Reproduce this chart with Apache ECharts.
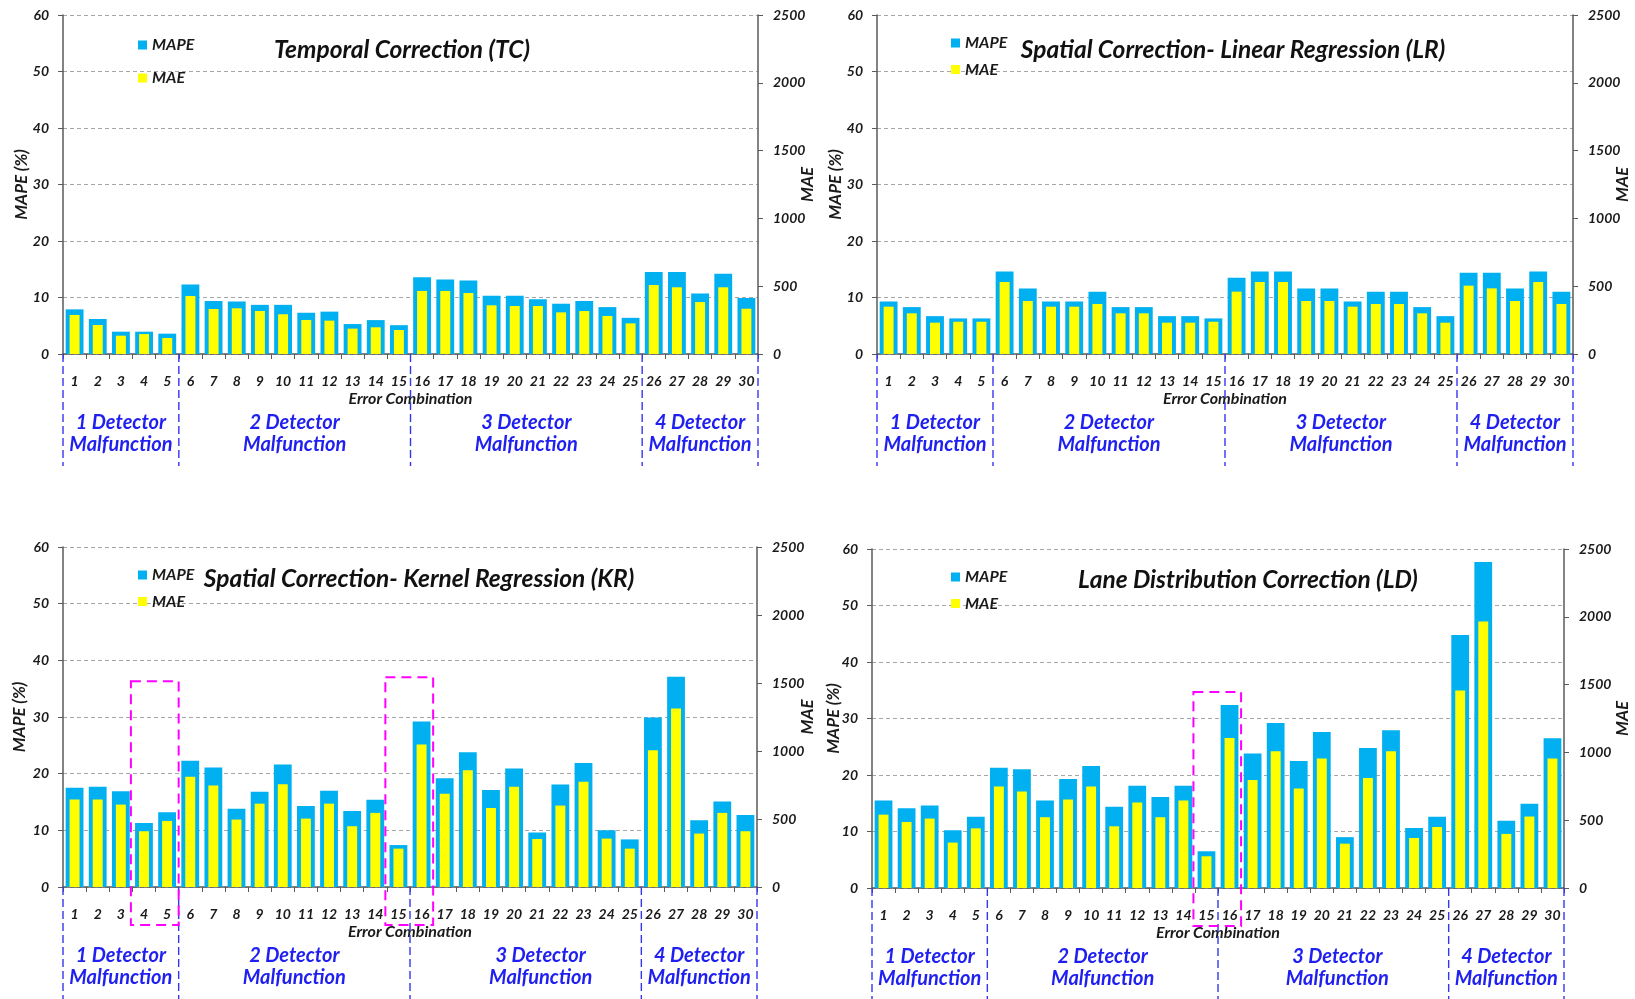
<!DOCTYPE html>
<html><head><meta charset="utf-8">
<script src="https://cdn.jsdelivr.net/npm/echarts@6/dist/echarts.min.js"></script>
<style>html,body{margin:0;padding:0;background:#fff}#c{width:1635px;height:999px}</style>
</head><body><div id="c"></div>
<script>
// ---------------- data ----------------
const categories = ['1','2','3','4','5','6','7','8','9','10','11','12','13','14','15','16','17','18','19','20','21','22','23','24','25','26','27','28','29','30'];
const groupNames = ['1 Detector\nMalfunction','2 Detector\nMalfunction','3 Detector\nMalfunction','4 Detector\nMalfunction'];
const groupBreaks = [0, 5, 15, 25, 30];
const mapeAxis = {min: 0, max: 60, interval: 10};
const maeAxis = {min: 0, max: 2500, interval: 500};
const seriesNames = ['MAPE', 'MAE'];
const xAxisName = 'Error Combination';
const leftAxisName = 'MAPE (%)';
const rightAxisName = 'MAE';

const tcTitle = 'Temporal Correction (TC)';
const tcMAPE = [7.9,6.2,3.95,3.95,3.6,12.3,9.4,9.3,8.7,8.7,7.3,7.5,5.3,6.0,5.1,13.6,13.2,13.0,10.3,10.3,9.7,8.9,9.4,8.3,6.4,14.5,14.5,10.7,14.2,9.9];
const tcMAE  = [288,214,135,147,118,428,332,337,317,293,251,246,187,197,177,465,465,450,359,354,354,307,317,280,226,509,492,383,492,334];

const lrTitle = 'Spatial Correction- Linear Regression (LR)';
const lrMAPE = [9.3,8.3,6.7,6.3,6.3,14.6,11.6,9.3,9.3,11.0,8.3,8.3,6.7,6.7,6.3,13.5,14.6,14.6,11.6,11.6,9.3,11.0,11.0,8.3,6.7,14.4,14.4,11.6,14.6,11.0];
const lrMAE  = [349,300,231,238,238,531,391,349,349,369,300,300,231,231,238,460,531,531,391,391,349,369,369,300,231,504,484,391,531,369];

const krTitle = 'Spatial Correction- Kernel Regression (KR)';
const krMAPE = [17.5,17.7,16.9,11.3,13.2,22.3,21.1,13.8,16.8,21.6,14.3,17.0,13.4,15.4,7.4,29.2,19.2,23.8,17.1,20.9,9.6,18.1,21.9,10.0,8.4,29.9,37.1,11.8,15.1,12.7];
const krMAE  = [643,643,606,410,486,810,746,496,613,756,503,613,447,545,282,1048,685,859,581,738,353,599,773,356,282,1006,1313,393,545,410];
const krHighlights = [{from: '4', to: '5', top: 36.3}, {from: '15', to: '16', top: 37.0}];

const ldTitle = 'Lane Distribution Correction (LD)';
const ldMAPE = [15.5,14.1,14.6,10.2,12.6,21.3,21.0,15.5,19.3,21.6,14.4,18.1,16.1,18.1,6.5,32.4,23.8,29.2,22.5,27.6,9.0,24.8,27.9,10.6,12.6,44.8,57.7,11.9,14.9,26.5];
const ldMAE  = [541,487,512,335,440,748,711,522,652,748,455,630,522,645,234,1107,797,1009,733,955,327,812,1009,369,450,1457,1966,399,527,955];
const ldHighlights = [{from: '15', to: '16', top: 34.7}];

// ---------------- layout / style ----------------
const panels = [
  {title: tcTitle, mape: tcMAPE, mae: tcMAE, hl: [], grid: {left: 63, top: 15, width: 695, height: 339}, titlePos: [402, 50], legendPos: [133, 32], legendGap: 17, lGap: 33, rGap: 41, groupShift: [0, 0, 0, 0]},
  {title: lrTitle, mape: lrMAPE, mae: lrMAE, hl: [], grid: {left: 877, top: 15, width: 696, height: 339}, titlePos: [1233, 50], legendPos: [946, 30], legendGap: 10.5, lGap: 33, rGap: 41, groupShift: [0, 0, 0, 0]},
  {title: krTitle, mape: krMAPE, mae: krMAE, hl: krHighlights, grid: {left: 63, top: 547, width: 694, height: 340}, titlePos: [419, 579], legendPos: [133, 562], legendGap: 10.5, lGap: 35, rGap: 42, groupShift: [0, 0, 15, 0]},
  {title: ldTitle, mape: ldMAPE, mae: ldMAE, hl: ldHighlights, grid: {left: 872, top: 549, width: 692, height: 339}, titlePos: [1248, 580], legendPos: [946, 564], legendGap: 10.5, lGap: 30, rGap: 50, groupShift: [0, 0, 4, 0]}
];

const FONT = 'Lato, "Open Sans", sans-serif';
const TXT = '#1a1a1a';
const BLUE = '#00B0F0';
const YELLOW = '#FFFF00';
const AXIS = '#5a5a5a';

const option = {
  animation: false,
  backgroundColor: '#fff',
  grid: [], xAxis: [], yAxis: [], series: [], legend: []
};

panels.forEach((p, i) => {
  option.grid.push(Object.assign({}, p.grid));
  const labelStyle = {color: TXT, fontFamily: FONT, fontStyle: 'italic', fontWeight: 'bold', fontSize: 14};
  const nameStyle = {color: TXT, fontFamily: FONT, fontStyle: 'italic', fontWeight: 'bold', fontSize: 17};
  option.xAxis.push({
    type: 'category', gridIndex: i, data: categories,
    axisLine: {lineStyle: {color: AXIS, width: 1.5}},
    axisTick: {show: true, length: 5, lineStyle: {color: AXIS}},
    axisLabel: Object.assign({interval: 0, margin: 20}, labelStyle),
    name: xAxisName, nameLocation: 'middle', nameGap: 37, nameMoveOverlap: false,
    nameTextStyle: {color: TXT, fontFamily: FONT, fontStyle: 'italic', fontWeight: 'bold', fontSize: 16}
  });
  option.xAxis.push({type: 'category', gridIndex: i, data: categories, show: false});
  option.yAxis.push({
    type: 'value', gridIndex: i, position: 'left',
    min: mapeAxis.min, max: mapeAxis.max, interval: mapeAxis.interval,
    axisLine: {show: true, lineStyle: {color: AXIS, width: 1.5}},
    axisTick: {show: true, length: 5, lineStyle: {color: AXIS}},
    axisLabel: Object.assign({margin: 14}, labelStyle),
    splitLine: {show: true, lineStyle: {color: '#a6a6a6', type: [4, 3], width: 1}},
    name: leftAxisName, nameLocation: 'middle', nameGap: p.lGap, nameRotate: 90, nameMoveOverlap: false,
    nameTextStyle: nameStyle
  });
  option.yAxis.push({
    type: 'value', gridIndex: i, position: 'right',
    min: maeAxis.min, max: maeAxis.max, interval: maeAxis.interval,
    axisLine: {show: true, lineStyle: {color: AXIS, width: 1.5}},
    axisTick: {show: true, length: 5, lineStyle: {color: AXIS}},
    axisLabel: Object.assign({margin: 15, formatter: v => String(v)}, labelStyle),
    splitLine: {show: false},
    name: rightAxisName, nameLocation: 'middle', nameGap: p.rGap, nameRotate: 90, nameMoveOverlap: false,
    nameTextStyle: nameStyle
  });
  option.series.push({
    name: seriesNames[0], type: 'bar', xAxisIndex: 2 * i, yAxisIndex: 2 * i,
    data: p.mape, barWidth: '77%', itemStyle: {color: BLUE}, z: 2
  });
  option.series.push({
    name: seriesNames[1], type: 'bar', xAxisIndex: 2 * i + 1, yAxisIndex: 2 * i + 1,
    data: p.mae, barWidth: '43%', itemStyle: {color: YELLOW}, z: 3
  });
  option.legend.push({
    data: seriesNames, orient: 'vertical', left: p.legendPos[0], top: p.legendPos[1],
    itemWidth: 9, itemHeight: 9, itemGap: p.legendGap, icon: 'rect', selectedMode: false,
    textStyle: {color: TXT, fontFamily: FONT, fontStyle: 'italic', fontWeight: 'bold', fontSize: 16}
  });
});

const chart = echarts.init(document.getElementById('c'));
chart.setOption(option);

// ---------------- annotations computed from axes ----------------
const graphics = [];
panels.forEach((p, i) => {
  const xi = 2 * i;
  const c0 = chart.convertToPixel({xAxisIndex: xi}, categories[0]);
  const c1 = chart.convertToPixel({xAxisIndex: xi}, categories[1]);
  const band = c1 - c0;
  const bx = k => c0 - band / 2 + k * band;
  const y0 = chart.convertToPixel({yAxisIndex: xi}, 0);

  // title
  graphics.push({type: 'text', z: 10, style: {
    text: p.title, x: p.titlePos[0], y: p.titlePos[1], align: 'center', verticalAlign: 'middle',
    fill: '#111', font: 'italic bold 24.5px ' + FONT
  }});
  // group separators
  groupBreaks.forEach(k => {
    graphics.push({type: 'line', z: 5, shape: {x1: bx(k), y1: y0, x2: bx(k), y2: y0 + 112},
      style: {stroke: '#3636f0', lineWidth: 1.4, lineDash: [8, 4]}});
  });
  // group labels
  groupNames.forEach((name, g) => {
    const cx = (bx(groupBreaks[g]) + bx(groupBreaks[g + 1])) / 2 + p.groupShift[g];
    graphics.push({type: 'text', z: 10, style: {
      text: name, x: cx, y: y0 + 80, align: 'center', verticalAlign: 'middle', lineHeight: 22,
      fill: '#1f1ff0', font: 'italic bold 20px ' + FONT
    }});
  });
  // magenta highlight boxes
  p.hl.forEach(h => {
    const a = categories.indexOf(h.from), b = categories.indexOf(h.to);
    const xl = bx(a) - 1.5, xr = bx(b + 1);
    const yt = chart.convertToPixel({yAxisIndex: xi}, h.top);
    graphics.push({type: 'rect', z: 8, shape: {x: xl, y: yt, width: xr - xl, height: y0 + 38 - yt},
      style: {fill: 'none', stroke: '#ff00ff', lineWidth: 2, lineDash: [10, 6]}});
  });
});
chart.setOption({graphic: graphics});
</script></body></html>
